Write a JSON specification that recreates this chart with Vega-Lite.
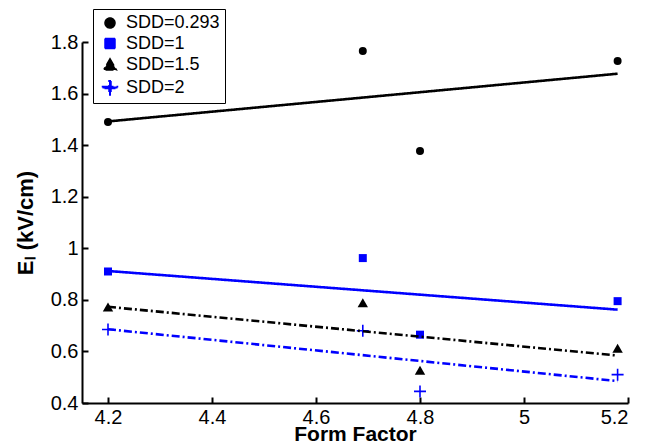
{
  "$schema": "https://vega.github.io/schema/vega-lite/v6.json",
  "width": 546,
  "height": 361,
  "autosize": "none",
  "padding": {"left": 82, "top": 42, "right": 27, "bottom": 45},
  "background": "white",
  "config": {
    "view": {"stroke": null},
    "axis": {
      "grid": false,
      "domainColor": "black",
      "domainWidth": 2,
      "tickColor": "black",
      "tickWidth": 2,
      "tickSize": -6,
      "labelFont": "Liberation Sans",
      "labelFontSize": 20,
      "labelColor": "black",
      "titleFont": "Liberation Sans",
      "titleFontSize": 21,
      "titleFontWeight": "bold",
      "titleColor": "black"
    }
  },
  "datasets": {
    "pts": [
      {"ff": 4.2, "el": 1.49, "series": "SDD=0.293"},
      {"ff": 4.69, "el": 1.765, "series": "SDD=0.293"},
      {"ff": 4.8, "el": 1.377, "series": "SDD=0.293"},
      {"ff": 5.18, "el": 1.726, "series": "SDD=0.293"},
      {"ff": 4.2, "el": 0.91, "series": "SDD=1"},
      {"ff": 4.69, "el": 0.962, "series": "SDD=1"},
      {"ff": 4.8, "el": 0.665, "series": "SDD=1"},
      {"ff": 5.18, "el": 0.795, "series": "SDD=1"},
      {"ff": 4.2, "el": 0.77, "series": "SDD=1.5"},
      {"ff": 4.69, "el": 0.787, "series": "SDD=1.5"},
      {"ff": 4.8, "el": 0.525, "series": "SDD=1.5"},
      {"ff": 5.18, "el": 0.61, "series": "SDD=1.5"},
      {"ff": 4.2, "el": 0.685, "series": "SDD=2"},
      {"ff": 4.69, "el": 0.68, "series": "SDD=2"},
      {"ff": 4.8, "el": 0.445, "series": "SDD=2"},
      {"ff": 5.18, "el": 0.51, "series": "SDD=2"}
    ],
    "fits": [
      {"ff": 4.2, "el": 1.492, "series": "SDD=0.293"},
      {"ff": 5.18, "el": 1.677, "series": "SDD=0.293"},
      {"ff": 4.2, "el": 0.912, "series": "SDD=1"},
      {"ff": 5.18, "el": 0.762, "series": "SDD=1"},
      {"ff": 4.2, "el": 0.773, "series": "SDD=1.5"},
      {"ff": 5.18, "el": 0.584, "series": "SDD=1.5"},
      {"ff": 4.2, "el": 0.686, "series": "SDD=2"},
      {"ff": 5.18, "el": 0.485, "series": "SDD=2"}
    ]
  },
  "layer": [
    {
      "data": {"name": "pts"},
      "mark": {"type": "point", "filled": true, "opacity": 1, "size": 64},
      "encoding": {
        "x": {
          "field": "ff",
          "type": "quantitative",
          "title": "Form Factor",
          "scale": {"domain": [4.15, 5.2], "nice": false, "zero": false},
          "axis": {"values": [4.2, 4.4, 4.6, 4.8, 5, 5.2], "format": "~g", "labelPadding": 10, "titlePadding": -4}
        },
        "y": {
          "field": "el",
          "type": "quantitative",
          "title": "Eₗ (kV/cm)",
          "scale": {"domain": [0.4, 1.8], "nice": false, "zero": false},
          "axis": {"values": [0.4, 0.6, 0.8, 1, 1.2, 1.4, 1.6, 1.8], "format": "~g", "labelPadding": 10, "titlePadding": 13, "titleFontSize": 22}
        },
        "color": {
          "field": "series",
          "type": "nominal",
          "scale": {"domain": ["SDD=0.293", "SDD=1", "SDD=1.5", "SDD=2"], "range": ["black", "#0000ff", "black", "#0000ff"]},
          "legend": {
            "title": null,
            "orient": "none",
            "legendX": 11,
            "legendY": -33,
            "strokeColor": "black",
            "fillColor": "white",
            "padding": 5,
            "rowPadding": 2.5,
            "symbolOffset": 3,
            "labelOffset": 7,
            "labelFont": "Liberation Sans",
            "labelFontSize": 18,
            "labelColor": "black"
          }
        },
        "shape": {
          "field": "series",
          "type": "nominal",
          "scale": {"domain": ["SDD=0.293", "SDD=1", "SDD=1.5", "SDD=2"], "range": ["circle", "square", "M0,-1.25L1.3,1L-1.3,1Z", "M-1.5,-0.2H-0.2V-1.5H0.2V-0.2H1.5V0.2H0.2V1.5H-0.2V0.2H-1.5Z"]}
        }
      }
    },
    {
      "data": {"name": "fits"},
      "mark": {"type": "line", "strokeWidth": 2.6},
      "encoding": {
        "x": {"field": "ff", "type": "quantitative"},
        "y": {"field": "el", "type": "quantitative"},
        "detail": {"field": "series"},
        "stroke": {
          "field": "series",
          "type": "nominal",
          "scale": {"domain": ["SDD=0.293", "SDD=1", "SDD=1.5", "SDD=2"], "range": ["black", "#0000ff", "black", "#0000ff"]},
          "legend": null
        },
        "strokeDash": {
          "field": "series",
          "type": "nominal",
          "scale": {"domain": ["SDD=0.293", "SDD=1", "SDD=1.5", "SDD=2"], "range": [[1, 0], [1, 0], [8, 3, 2, 3], [8, 3, 2, 3]]},
          "legend": null
        }
      }
    }
  ]
}
